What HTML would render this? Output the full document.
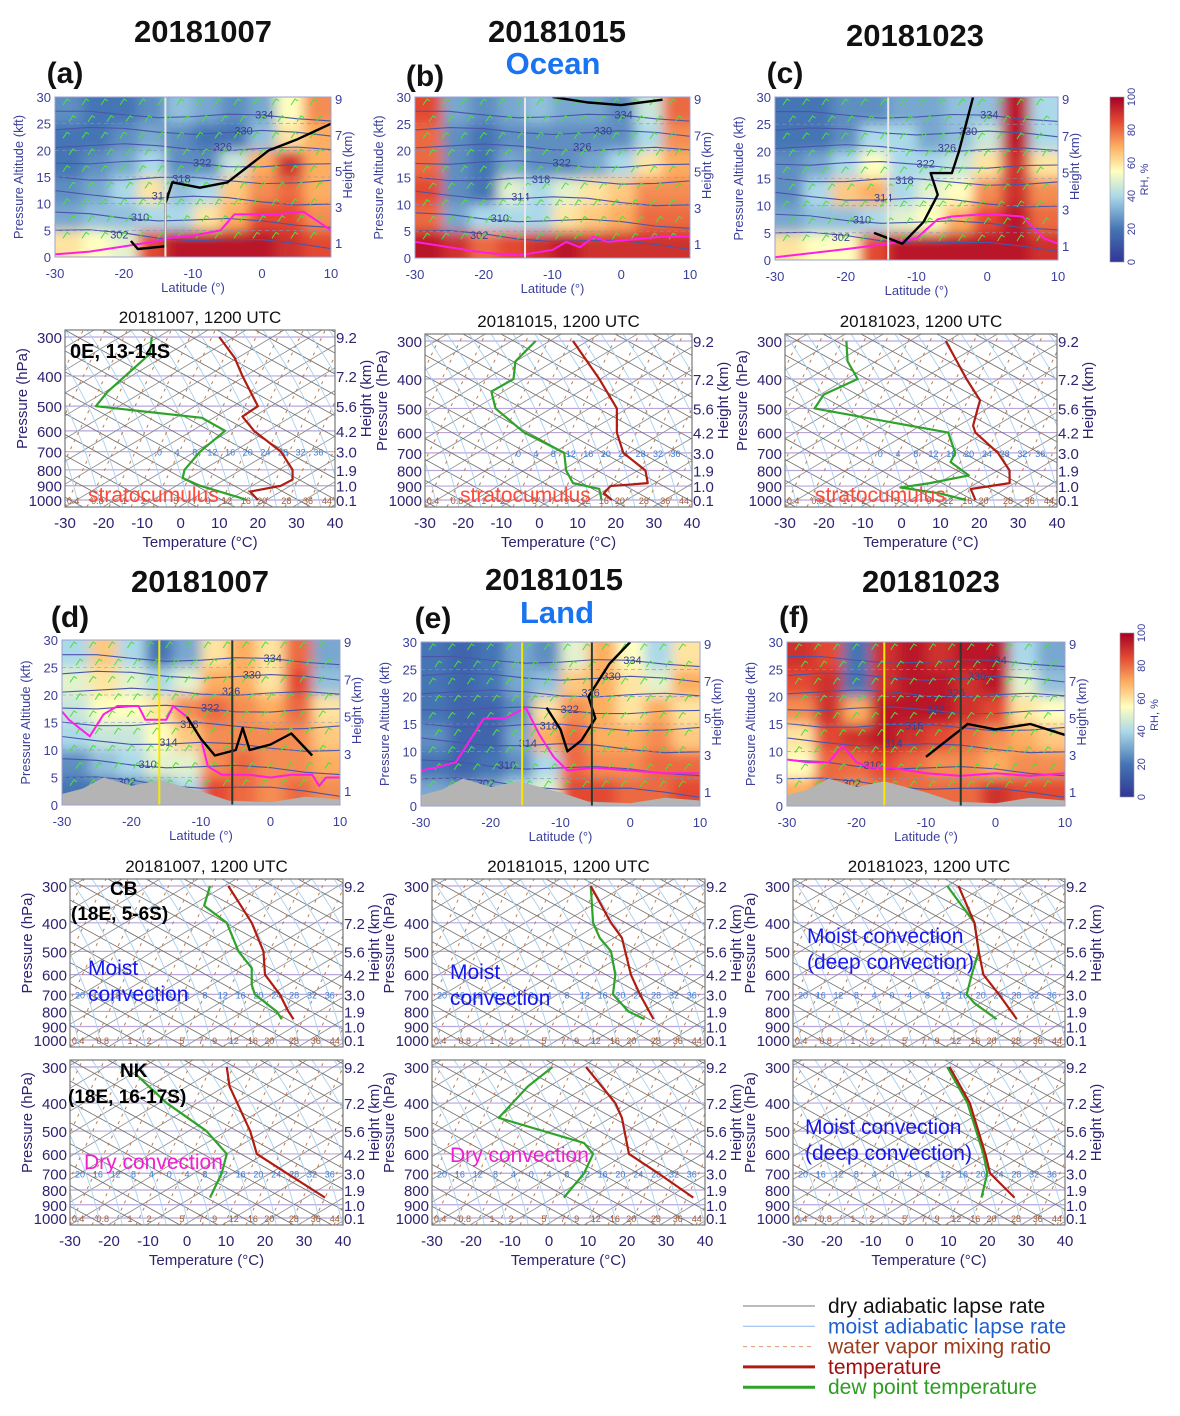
<!DOCTYPE html>
<html><head><meta charset="utf-8">
<style>
html,body{margin:0;padding:0;background:#fff;}
svg{display:block;font-family:"Liberation Sans",sans-serif;}
</style></head>
<body>
<svg id="fig" width="1180" height="1416" viewBox="0 0 1180 1416" xmlns="http://www.w3.org/2000/svg">
<defs>
<filter id="blur" x="-5%" y="-5%" width="110%" height="110%"><feGaussianBlur stdDeviation="6"/></filter>
<linearGradient id="cbar" x1="0" y1="1" x2="0" y2="0">
<stop offset="0" stop-color="#313695"/><stop offset="0.2" stop-color="#4575b4"/><stop offset="0.4" stop-color="#abd9e9"/><stop offset="0.55" stop-color="#ffffbf"/><stop offset="0.7" stop-color="#fdae61"/><stop offset="0.85" stop-color="#e34a33"/><stop offset="1" stop-color="#a50026"/>
</linearGradient>
</defs>
<g id="root"></g>
</svg>
<script>
// ---------- RH cross-section data (rows top 25-30kft -> bottom 0-5kft, cols -30..10 lat) ----------
const latTicks=[-30,-20,-10,0,10];
const kftTicks=[0,5,10,15,20,25,30];
const kmTicks=[1,3,5,7,9];
const rhA=[[25,20,20,25,35,30,25,30,55,75],[20,20,25,30,25,20,20,35,60,70],[20,25,30,40,25,25,45,70,90,70],[25,30,40,60,35,40,65,75,80,70],[30,35,35,40,40,60,70,85,85,75],[60,55,50,85,95,95,95,95,90,85]];
const rhB=[[85,30,25,30,35,30,30,25,45,80],[80,25,20,25,25,25,25,25,40,75],[80,25,20,30,25,25,30,40,60,70],[85,25,20,50,40,50,60,65,75,75],[80,30,40,40,40,60,65,70,80,80],[95,90,80,85,90,95,90,90,90,90]];
const rhC=[[20,20,25,25,30,30,35,35,95,40],[20,20,25,40,40,30,35,45,95,40],[25,30,40,55,40,40,45,60,90,60],[25,40,65,70,40,50,55,75,90,75],[30,35,35,40,50,55,70,85,95,80],[60,55,55,85,95,95,95,95,95,90]];
const rhD=[[40,65,40,20,30,60,70,60,80,30],[50,60,50,40,50,70,70,60,85,35],[45,55,55,60,75,80,75,70,80,60],[40,45,45,55,65,75,75,75,75,65],[25,35,40,50,50,75,80,75,75,70],[20,20,25,30,40,85,80,75,80,75]];
const rhE=[[20,15,20,30,25,50,70,55,40,60],[20,15,20,30,35,65,70,60,50,70],[20,15,15,25,60,75,70,60,70,60],[25,15,15,30,70,80,70,70,75,65],[20,15,20,25,40,80,75,75,80,80],[30,25,30,40,50,85,85,80,80,85]];
const rhF=[[90,85,20,90,95,90,95,95,40,30],[85,90,20,90,95,95,90,95,50,35],[75,90,70,95,95,95,90,85,60,55],[60,85,90,95,90,85,80,75,70,65],[55,80,80,85,80,75,75,70,75,75],[70,80,75,80,80,80,80,90,85,85]];
// magenta boundary-layer lines: lat, kft
const magLatA=[-30,-25,-20,-15,-14,-10,-6,-4,-2,2,6,10], magKftA=[0.5,1,2,3,3.5,4,5,8,8,8,8.5,5];
const magLatB=[-30,-25,-20,-15,-10,-8,-6,-4,-2,2,6,10], magKftB=[3,2,1,0.5,1.5,3,2,4,3,3.5,4,4];
const magLatC=[-30,-20,-14,-10,-7,-5,0,5,8,10], magKftC=[0.5,2,3,4,7.5,8,8.5,8,4,3];
const magLatD=[-30,-29,-26,-24,-22,-19,-18,-15,-14,-12,-10,-9,-7,-3,0,3,6,7,8,10], magKftD=[17,15.5,12.5,16.5,18,18,15.5,15.5,18,16,12,7,5.5,5.5,5,5.5,5.5,3.5,5,5];
const magLatE=[-30,-28,-25,-23,-21,-18,-15,-13,-11,-9,-5,0,5,10], magKftE=[6.5,7,8,12,16,16,18,13,9,6.5,7,6.5,6,6];
const magLatF=[-30,-27,-24,-22,-20,-18,-15,-10,-5,0,5,10], magKftF=[8.5,8,8,11,8,7,7,6,5.5,6,5.5,6];
// terrain (land panels)
const terrLat=[-30,-27,-24,-20,-16,-13,-10,-6,0,5,10], terrKft=[2,3,5,3.5,4.5,3.5,2.5,0.8,0.5,1.5,1];
// theta contours: label, left kft, right kft
const thLab=[302,310,314,318,322,326,330,334], thL=[5,8,12,15,18,21,24,27], thR=[2,6,10,14,17,20,23,26];
// ---------- Skew-T profiles: pressure (hPa), temperature (deg C, plotted) ----------
const pTicks=[300,400,500,600,700,800,900,1000];
const hLabs=["9.2","7.2","5.6","4.2","3.0","1.9","1.0","0.1"];
const tTicks=[-30,-20,-10,0,10,20,30,40];
const pA_T=[300,350,400,500,540,600,700,800,860,900,940,1000], tA_T=[10,14,16,20,16,19,26,29,29,26,18,20];
const pA_D=[300,340,450,500,545,600,700,800,850,900,980,1000], tA_D=[-7.5,-8,-19,-22,5.5,11.5,5,1,0.5,5,15,17];
const pB_T=[300,400,500,600,700,800,880,900,950,1000], tB_T=[8.8,15.7,20.3,20.3,22,27.8,28.4,18.6,16.9,19];
const pB_D=[300,350,400,440,500,600,700,800,880,920,1000], tB_D=[-1,-6.3,-6.8,-12.6,-11.5,-4,6.5,7,8.8,15.7,16.3];
const pC_T=[300,400,470,500,570,600,700,800,880,920,1000], tC_T=[11.4,16.7,20.2,19.6,18.4,19,24.8,27.8,27.8,17.8,19];
const pC_D=[300,350,400,450,500,600,700,750,830,880,910,950,1000], tC_D=[-14.2,-13.9,-11.3,-20,-22.4,12,13.8,12.6,17.3,7.3,-0.3,9.6,16.6];
const pD1_T=[300,400,500,600,700,800,850], tD1_T=[10.6,16.6,19.6,20,23.8,26,27.3];
const pD1_D=[300,350,400,500,570,650,700,800,850], tD1_D=[5.9,4.4,10.2,13.2,16.6,16.6,17.4,23,24.3];
const pD2_T=[300,350,500,600,700,850], tD2_T=[10.2,10.9,16.2,17.9,25.6,35.4];
const pD2_D=[320,400,500,600,700,850], tD2_D=[-12.9,-5.2,5,10.2,8.9,5.9];
const pE1_T=[300,400,450,600,700,850], tE1_T=[10.7,15.9,18.7,21,23.3,26.8];
const pE1_D=[300,400,450,500,600,700,800,850], tE1_D=[10.7,11.3,13,15.9,17,16.4,20.4,24.5];
const pE2_T=[300,400,450,600,700,850], tE2_T=[9.5,17,18.7,20.5,28,37];
const pE2_D=[300,350,450,550,600,700,850], tE2_D=[0.9,-5.4,-12.9,9,11.3,9,3.8];
const pF1_T=[300,400,500,600,700,850], tF1_T=[12.6,16.7,17.8,19,23,27.6];
const pF1_D=[300,400,500,600,700,750,850], tF1_D=[9.7,16.7,17.8,16,14.7,16.7,22.4];
const pF2_T=[300,400,600,700,850], tF2_T=[10.3,15.5,19.5,20.7,27];
const pF2_D=[300,400,600,700,850], tF2_D=[9.7,14.9,19,20,18.5];
const moistLabs=["0","4","8","12","16","20","24","28","32","36"];
const moistLabsFull=["20","16","12","8","4","0","4","8","12","16","20","24","28","32","36"];
const mixLabs=["0.4","0.8","1","2","5","7","9","12","16","20","28","36","44"];

const NS="http://www.w3.org/2000/svg";
const root=document.getElementById('root');
function el(tag,attrs,parent,txt){const e=document.createElementNS(NS,tag);for(const k in attrs)e.setAttribute(k,attrs[k]);if(txt!==undefined)e.textContent=txt;(parent||root).appendChild(e);return e;}
function cmap(v){const s=[[0,[49,54,149]],[20,[69,117,180]],[40,[171,217,233]],[55,[255,255,191]],[70,[253,174,97]],[85,[227,74,51]],[100,[165,0,38]]];
 for(let i=0;i<s.length-1;i++){if(v<=s[i+1][0]){const f=(v-s[i][0])/(s[i+1][0]-s[i][0]);const c=s[i][1].map((a,k)=>Math.round(a+f*(s[i+1][1][k]-a)));return `rgb(${c})`;}}return 'rgb(165,0,38)';}
const axisCol="#3b3f9a";
let clipId=0;
function text(x,y,s,opt,parent){const t=el('text',Object.assign({x:x,y:y},opt||{}),parent,s);return t;}

function cross(P){
 const g=el('g',{});
 
 
 const X=lat=>P.x0+(lat+30)/40*(P.x1-P.x0), Y=k=>P.y1-k/30*(P.y1-P.y0);
 const cid='c'+(clipId++);
 const cp=el('clipPath',{id:cid},g);el('rect',{x:P.x0,y:P.y0,width:P.x1-P.x0,height:P.y1-P.y0},cp);
 const inner=el('g',{'clip-path':`url(#${cid})`},g);
 const hm=el('g',{filter:'url(#blur)'},inner);
 const rows=P.rh.length, cols=P.rh[0].length;
 P.rh.forEach((row,j)=>row.forEach((v,i)=>{
  let x=X(-30+i*40/cols), w=X(-30+(i+1)*40/cols)-x, y=Y(30-j*30/rows), h=Y(30-(j+1)*30/rows)-y;
  if(i==0){x-=14;w+=14;} if(i==cols-1)w+=14; if(j==0){y-=14;h+=14;} if(j==rows-1)h+=14;
  const r=el('rect',{x:x,y:y,width:w+0.5,height:h+0.5,fill:cmap(v)},hm);
  
  
 }));
 thLab.forEach((lab,i)=>{
  const pts=[];for(let k=0;k<=8;k++){const lat=-30+k*5;const kf=thL[i]+(thR[i]-thL[i])*k/8+Math.sin(k*1.3+i)*0.5;pts.push(X(lat)+','+Y(kf));}
  const pl=el('polyline',{points:pts.join(' '),fill:'none',stroke:'#4a55a8','stroke-width':1.1},inner);
  
  
  text(X(-22+i*3),Y(thL[i]+(thR[i]-thL[i])*0.25)+4,String(lab),{'font-size':11,fill:'#3a3f8a'},inner);
 });
 [5,10,15,20,25].forEach(k=>el('line',{x1:P.x0,x2:P.x1,y1:Y(k),y2:Y(k),stroke:'#8890c0','stroke-width':0.6,'stroke-dasharray':'4 3'},inner));
 for(let i=0;i<14;i++)for(let j=0;j<9;j++){const x=P.x0+8+i*(P.x1-P.x0-10)/14+(j%2)*6,y=P.y0+8+j*(P.y1-P.y0-10)/9;
  el('path',{d:`M${x},${y} l4,-6 l3,2`,stroke:'#49e23a','stroke-width':1,fill:'none'},inner);}
 if(P.terrain){const pts=[X(-30)+','+Y(0)];terrLat.forEach((l,i)=>pts.push(X(l)+','+Y(terrKft[i])));pts.push(X(10)+','+Y(0));
  const t=el('polygon',{points:pts.join(' '),fill:'#b4b4b4'},inner);}
 const mp=P.magLat.map((l,i)=>X(l)+','+Y(P.magKft[i])).join(' ');
 const m=el('polyline',{points:mp,fill:'none',stroke:'#ff1ee6','stroke-width':2},inner);
 
 if(P.black){const b=el('polyline',{points:P.black.map(q=>X(q[0])+','+Y(q[1])).join(' '),fill:'none',stroke:'#000','stroke-width':2.4,'stroke-linejoin':'round'},inner);
  }
 P.vlines.forEach(v=>{const l=el('line',{x1:X(v[0]),x2:X(v[0]),y1:P.y0,y2:P.y1,stroke:v[1],'stroke-width':2},inner);});
 el('rect',{x:P.x0,y:P.y0,width:P.x1-P.x0,height:P.y1-P.y0,fill:'none',stroke:'#9aa0d0','stroke-width':1},g);
 latTicks.forEach(l=>text(X(l),P.y1+21,String(l),{'font-size':13,fill:axisCol,'text-anchor':'middle'},g));
 kftTicks.forEach(k=>text(P.x0-4,Y(k)+5,String(k),{'font-size':13,fill:axisCol,'text-anchor':'end'},g));
 kmTicks.forEach(k=>text(P.x1+4,P.y1-14-(k-1)*(P.y1-P.y0-16)/8+5,String(k),{'font-size':13,fill:axisCol},g));
 text((P.x0+P.x1)/2,P.y1+35,'Latitude (°)',{'font-size':13,fill:axisCol,'text-anchor':'middle'},g);
 text(0,0,'Pressure Altitude (kft)',{'font-size':13,fill:axisCol,'text-anchor':'middle',transform:`translate(${P.x0-32},${(P.y0+P.y1)/2}) rotate(-90)`},g);
 text(0,0,'Height (km)',{'font-size':13,fill:axisCol,'text-anchor':'middle',transform:`translate(${P.x1+21},${(P.y0+P.y1)/2-12}) rotate(-90)`},g);
}

function skew(P){
 const g=el('g',{});
 
 
 const L=Math.log(1000/300);
 const X=t=>P.x0+(t+30)*(P.x1-P.x0)/70, Y=p=>P.y300+Math.log(p/300)/L*(P.y1000-P.y300);
 const bt=P.y300-7, bb=P.y1000+7;
 const cid='s'+(clipId++);
 const cp=el('clipPath',{id:cid},g);el('rect',{x:P.x0,y:bt,width:P.x1-P.x0,height:bb-bt},cp);
 const inner=el('g',{'clip-path':`url(#${cid})`},g);
 const H=bb-bt, W=P.x1-P.x0;
 pTicks.forEach(p=>el('line',{x1:P.x0,x2:P.x1,y1:Y(p),y2:Y(p),stroke:'#b9a6dc','stroke-width':1.2},inner));
 for(let k=-10;k<12;k++){const x=P.x0+k*38;el('line',{x1:x,y1:bb,x2:x+H/0.6,y2:bt,stroke:'#8a8a8a','stroke-width':0.8},inner);}
 for(let k=-12;k<10;k++){const x=P.x0+k*38;el('line',{x1:x,y1:bt,x2:x+H/0.55,y2:bb,stroke:'#6a6a6a','stroke-width':0.8},inner);}
 for(let k=-6;k<18;k++){const x=P.x0+k*22;el('path',{d:`M${x},${bt} Q${x+H*0.35},${(bt+bb)/2} ${x+H*0.45},${bb}`,stroke:'#a8d0f0','stroke-width':0.9,fill:'none'},inner);}
 for(let k=-4;k<16;k++){const x=P.x0+k*22;el('line',{x1:x,y1:bb,x2:x+H/2.1,y2:bt,stroke:'#c07a4a','stroke-width':1,'stroke-dasharray':'3 5'},inner);}
 const yM=Y(700);
 (P.fullMoist?moistLabsFull:moistLabs).forEach((s,i)=>{const x=P.fullMoist?P.x0+10+i*W/15.3:P.x0+W*0.35+i*W/15.3;text(x,yM+4,s,{'font-size':9,fill:'#3c7fd0','text-anchor':'middle'},inner);});
 mixLabs.forEach((s,i)=>{const fr=[0.03,0.12,0.22,0.29,0.41,0.48,0.53,0.6,0.67,0.73,0.82,0.9,0.97][i];text(P.x0+W*fr,P.y1000+4,s,{'font-size':9,fill:'#a05a30','text-anchor':'middle'},inner);});
 const prof=(ps,ts,col,nm)=>{const pl=el('polyline',{points:ps.map((p,i)=>X(ts[i])+','+Y(p)).join(' '),fill:'none',stroke:col,'stroke-width':2.2,'stroke-linejoin':'round'},inner);
   };
 prof(P.pD,P.tD,'#2ea32a','dewpoint-profile');
 prof(P.pT,P.tT,'#b01c10','temperature-profile');
 el('rect',{x:P.x0,y:bt,width:W,height:H,fill:'none',stroke:'#777','stroke-width':1.2},g);
 pTicks.forEach((p,i)=>{text(P.x0-3,Y(p)+6,String(p),{'font-size':15,fill:'#2d2370','text-anchor':'end'},g);
   text(P.x1+1,Y(p)+6,hLabs[i],{'font-size':15,fill:'#2d2370'},g);});
 text(0,0,'Pressure  (hPa)',{'font-size':15,fill:'#2d2370','text-anchor':'middle',transform:`translate(${P.x0-38},${(P.y300+P.y1000)/2-20}) rotate(-90)`},g);
 text(0,0,'Height (km)',{'font-size':15,fill:'#2d2370','text-anchor':'middle',transform:`translate(${P.x1+36},${(P.y300+P.y1000)/2-20}) rotate(-90)`},g);
 if(P.xlab){tTicks.forEach(t=>text(X(t),bb+21,String(t),{'font-size':15,fill:'#2d2370','text-anchor':'middle'},g));
   text((P.x0+P.x1)/2,bb+40,'Temperature (°C)',{'font-size':15,fill:'#2d2370','text-anchor':'middle'},g);}
 if(P.title)text((P.x0+P.x1)/2,P.y300-14,P.title,{'font-size':17,fill:'#111','text-anchor':'middle'},g);
 (P.notes||[]).forEach(n=>{const t=text(n[0],n[1],n[2],{'font-size':n[3],fill:n[4],'font-weight':n[5]||'normal'},g);});
}

function head(x,y,s,col,size,nm){const t=text(x,y,s,{'font-size':size,'font-weight':'bold',fill:col,'text-anchor':'middle'});}
head(203,42,'20181007','#111',31,'title-a');head(557,42,'20181015','#111',31,'title-b');head(915,46,'20181023','#111',31,'title-c');
head(553,74,'Ocean','#1a73f0',31,'ocean-label');
head(65,83,'(a)','#111',30,'label-a');head(425,86,'(b)','#111',30,'label-b');head(785,83,'(c)','#111',30,'label-c');
head(200,592,'20181007','#111',31,'title-d');head(554,590,'20181015','#111',31,'title-e');head(931,592,'20181023','#111',31,'title-f');
head(557,623,'Land','#1a73f0',31,'land-label');
head(70,627,'(d)','#111',30,'label-d');head(433,628,'(e)','#111',30,'label-e');head(794,627,'(f)','#111',30,'label-f');

cross({name:'section-a',x0:55,x1:331,y0:97,y1:257,rh:rhA,magLat:magLatA,magKft:magKftA,vlines:[[-14,'#e8e8e8']],black:[[-19,3],[-18,1.5],[-14,2],[-14,10],[-13,14],[-9,13],[-5,14],[1,20],[5,22],[10,25]]});
cross({name:'section-b',x0:415,x1:690,y0:97,y1:258,rh:rhB,magLat:magLatB,magKft:magKftB,vlines:[[-14,'#e8e8e8']],black:[[-10,30],[-5,29],[0,28.5],[6,29.5]]});
cross({name:'section-c',x0:775,x1:1058,y0:97,y1:260,rh:rhC,magLat:magLatC,magKft:magKftC,vlines:[[-14,'#e8e8e8']],black:[[-16,5],[-12,3],[-9,7],[-7,12],[-8,16],[-5,16],[-4,20],[-3,25],[-2,30]]});
cross({name:'section-d',x0:62,x1:340,y0:640,y1:805,rh:rhD,magLat:magLatD,magKft:magKftD,terrain:true,vlines:[[-16,'#f5e800'],[-5.5,'#2a3a2a']],black:[[-12,16],[-10,12],[-8,9],[-5,10],[-4,14],[-3,10],[0,11],[3,13],[6,9]]});
cross({name:'section-e',x0:421,x1:700,y0:642,y1:806,rh:rhE,magLat:magLatE,magKft:magKftE,terrain:true,vlines:[[-15.5,'#f5e800'],[-5.5,'#2a3a2a']],black:[[-12,18],[-10,14],[-9,10],[-7,12],[-5,16],[-6,20],[-3,26],[0,30]]});
cross({name:'section-f',x0:787,x1:1065,y0:642,y1:806,rh:rhF,magLat:magLatF,magKft:magKftF,terrain:true,vlines:[[-16,'#f5e800'],[-5,'#2a3a2a']],black:[[-10,9],[-7,12],[-4,15],[0,14],[5,15],[10,13]]});

[[1110,97,262],[1120,633,797]].forEach((c,i)=>{
 const g=el('g',{});
 el('rect',{x:c[0],y:c[1],width:14,height:c[2]-c[1],fill:'url(#cbar)',stroke:'#999','stroke-width':0.6},g);
 [0,20,40,60,80,100].forEach(v=>text(0,0,String(v),{'font-size':11,fill:axisCol,'text-anchor':'middle',transform:`translate(${c[0]+25},${c[2]-v/100*(c[2]-c[1])}) rotate(-90)`},g));
 text(0,0,'RH, %',{'font-size':11,fill:axisCol,'text-anchor':'middle',transform:`translate(${c[0]+38},${(c[1]+c[2])/2}) rotate(-90)`},g);
});

skew({name:'skewt-a',x0:65,x1:335,y300:337,y1000:500,pT:pA_T,tT:tA_T,pD:pA_D,tD:tA_D,xlab:true,title:'20181007, 1200 UTC',notes:[[70,358,'0E, 13-14S',20,'#000','bold'],[88,502,'stratocumulus',21,'#ff4a3a']]});
skew({name:'skewt-b',x0:425,x1:692,y300:341,y1000:500,pT:pB_T,tT:tB_T,pD:pB_D,tD:tB_D,xlab:true,title:'20181015, 1200 UTC',notes:[[460,502,'stratocumulus',21,'#ff4a3a']]});
skew({name:'skewt-c',x0:785,x1:1057,y300:341,y1000:500,pT:pC_T,tT:tC_T,pD:pC_D,tD:tC_D,xlab:true,title:'20181023, 1200 UTC',notes:[[815,502,'stratocumulus',21,'#ff4a3a']]});
skew({name:'skewt-d-cb',x0:70,x1:343,y300:886,y1000:1040,pT:pD1_T,tT:tD1_T,pD:pD1_D,tD:tD1_D,fullMoist:true,title:'20181007, 1200 UTC',notes:[[110,895,'CB',19,'#000','bold'],[71,920,'(18E, 5-6S)',19,'#000','bold'],[88,975,'Moist',21,'#1515f0'],[88,1001,'convection',21,'#1515f0']]});
skew({name:'skewt-d-nk',x0:70,x1:343,y300:1067,y1000:1218,pT:pD2_T,tT:tD2_T,pD:pD2_D,tD:tD2_D,fullMoist:true,xlab:true,notes:[[120,1077,'NK',19,'#000','bold'],[68,1103,'(18E, 16-17S)',19,'#000','bold'],[84,1169,'Dry convection',21,'#f020d0']]});
skew({name:'skewt-e-upper',x0:432,x1:705,y300:886,y1000:1040,pT:pE1_T,tT:tE1_T,pD:pE1_D,tD:tE1_D,fullMoist:true,title:'20181015, 1200 UTC',notes:[[450,979,'Moist',21,'#1515f0'],[450,1005,'convection',21,'#1515f0']]});
skew({name:'skewt-e-lower',x0:432,x1:705,y300:1067,y1000:1218,pT:pE2_T,tT:tE2_T,pD:pE2_D,tD:tE2_D,fullMoist:true,xlab:true,notes:[[450,1162,'Dry convection',21,'#f020d0']]});
skew({name:'skewt-f-upper',x0:793,x1:1065,y300:886,y1000:1040,pT:pF1_T,tT:tF1_T,pD:pF1_D,tD:tF1_D,fullMoist:true,title:'20181023, 1200 UTC',notes:[[807,943,'Moist convection',21,'#1515f0'],[807,969,'(deep convection)',21,'#1515f0']]});
skew({name:'skewt-f-lower',x0:793,x1:1065,y300:1067,y1000:1218,pT:pF2_T,tT:tF2_T,pD:pF2_D,tD:tF2_D,fullMoist:true,xlab:true,notes:[[805,1134,'Moist convection',21,'#1515f0'],[805,1160,'(deep convection)',21,'#1515f0']]});

const leg=el('g',{});
[['dry adiabatic lapse rate','#111','#777',1,null],['moist adiabatic lapse rate','#1f5fcc','#8cb8ee',1,null],['water vapor mixing ratio','#9a3d1e','#d9957a',1,'4 4'],['temperature','#a01010','#b01c10',3,null],['dew point temperature','#2e9e22','#2ea32a',3,null]].forEach((r,i)=>{
 const y=1306+i*20.3;
 const ln=el('line',{x1:743,x2:815,y1:y,y2:y,stroke:r[2],'stroke-width':r[3]},leg);if(r[4])ln.setAttribute('stroke-dasharray',r[4]);
 
 const t=text(828,y+7,r[0],{'font-size':21,fill:r[1]},leg);
});
</script>
</body></html>
